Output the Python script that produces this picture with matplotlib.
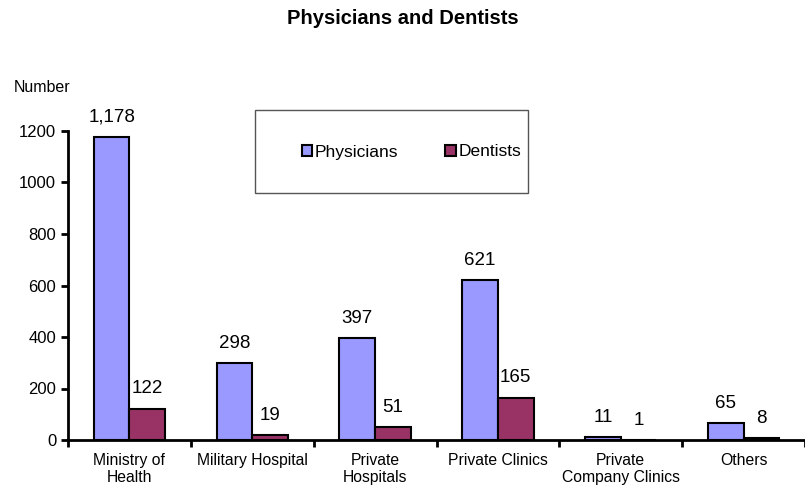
import numpy as np
import matplotlib
matplotlib.use("Agg")
import matplotlib.pyplot as plt
from matplotlib.patches import Rectangle

plt.rcParams['font.family'] = ['Liberation Sans', 'DejaVu Sans']

categories = ["Ministry of\nHealth", "Military Hospital", "Private\nHospitals",
              "Private Clinics", "Private\nCompany Clinics", "Others"]
physicians = [1178, 298, 397, 621, 11, 65]
dentists = [122, 19, 51, 165, 1, 8]

fig = plt.figure(figsize=(8.05, 4.9), dpi=100)
ax = fig.add_axes([68/805, 1-440/490, 1-68/805, (440-131)/490])

x = np.arange(len(categories))
w = 0.29
b1 = ax.bar(x - w/2, physicians, w, color='#9999FF', edgecolor='black', linewidth=1.5, label='Physicians')
b2 = ax.bar(x + w/2, dentists, w, color='#993366', edgecolor='black', linewidth=1.5, label='Dentists')

for bars, vals in ((b1, physicians), (b2, dentists)):
    for r, v in zip(bars, vals):
        ax.annotate(f"{v:,}", (r.get_x() + r.get_width()/2, v), xytext=(0, 8),
                    textcoords='offset points', ha='center', va='bottom', fontsize=13.5)

ax.set_xlim(-0.5, len(categories) - 0.5)
ax.set_ylim(0, 1200)
ax.set_yticks(range(0, 1201, 200))
ax.set_xticks(np.arange(len(categories) + 1) - 0.5)
ax.set_xticklabels([])
ax.set_xticks(x, minor=True)
ax.set_xticklabels(categories, minor=True, fontsize=11.3)
ax.tick_params(axis='x', which='minor', length=0, pad=9)
ax.tick_params(axis='x', which='major', length=5, width=2, direction='out')
ax.tick_params(axis='y', length=5, width=2, direction='out', labelsize=12)
for s in ('top', 'right'):
    ax.spines[s].set_visible(False)
for s in ('left', 'bottom'):
    ax.spines[s].set_linewidth(2)

fig.text(0.5, 1-18/490, "Physicians and Dentists", ha='center', va='center',
         fontsize=14.5, fontweight='bold')
fig.text(14/805, 1-87/490, "Number", ha='left', va='center', fontsize=11.5)

# legend box
fig.patches.append(Rectangle((255/805, 1-193/490), 273/805, 83/490, transform=fig.transFigure,
                             facecolor='white', edgecolor='#555555', linewidth=1, zorder=3))
fig.legend(handles=[b1, b2], loc='center', bbox_to_anchor=((255+273/2+20)/805, 1-152/490),
           ncol=2, frameon=False, fontsize=12.5, handlelength=0.6, handleheight=0.6,
           handletextpad=0.15, columnspacing=2.7)

fig.savefig("out.png", dpi=100)
